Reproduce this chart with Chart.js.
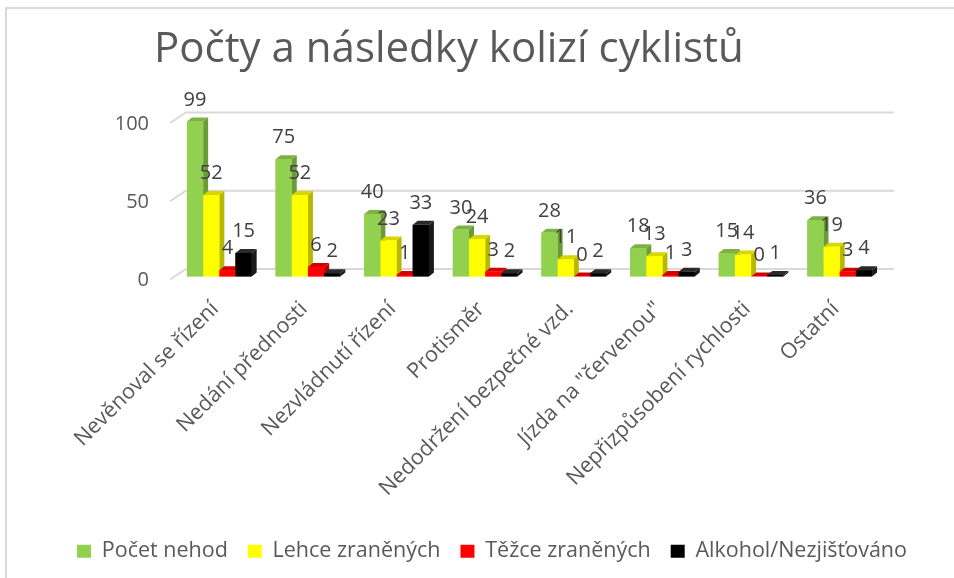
<!DOCTYPE html>
<html>
<head>
<meta charset="utf-8">
<script src="https://cdn.jsdelivr.net/npm/chart.js@4.4.1/dist/chart.umd.min.js"></script>
<style>
  html, body { margin: 0; padding: 0; background: #fff; overflow: hidden; }
  #frame { position: absolute; left: 5px; top: 7px; width: 980px; height: 600px;
           border-top: 2px solid #d9d9d9; border-left: 2px solid #d9d9d9; }
  #myChart { position: absolute; left: 0; top: 0; }
</style>
</head>
<body>
<div id="frame"></div>
<canvas id="myChart" width="954" height="578"></canvas>
<script>
var titleText = 'Počty a následky kolizí cyklistů';
var categories = ['Nevěnoval se řízení', 'Nedání přednosti', 'Nezvládnutí řízení', 'Protisměr',
                  'Nedodržení bezpečné vzd.', 'Jízda na "červenou"', 'Nepřizpůsobení rychlosti', 'Ostatní'];
var pocetNehod = [99, 75, 40, 30, 28, 18, 15, 36];
var lehceZranenych = [52, 52, 23, 24, 11, 13, 14, 19];
var tezceZranenych = [4, 6, 1, 3, 0, 1, 0, 3];
var alkohol = [15, 2, 33, 2, 2, 3, 1, 4];
var yTicks = [0, 50, 100];

// colours: front, side, top
var faces = [
    ['#92d050', '#6b9a39', '#7cb244'],
    ['#ffff00', '#b8b800', '#d6d600'],
    ['#ff0000', '#b80000', '#d40000'],
    ['#000000', '#1a1a1a', '#2a2a2a']
];
var depthX = 5, depthY = 4;

// back grid lines with the little slanted piece at the left
var gridPlugin = {
    id: 'grid3d',
    beforeDatasetsDraw: function(chart) {
        var c = chart.ctx, area = chart.chartArea, y = chart.scales.y;
        c.save();
        c.strokeStyle = '#d9d9d9';
        c.lineWidth = 2;
        yTicks.forEach(function(v) {
            var py = y.getPixelForValue(v);
            c.beginPath();
            c.moveTo(area.left - 5, py + 3);
            c.lineTo(area.left + 11, py - 7.5);
            c.lineTo(area.right + 10, py - 7.5);
            c.stroke();
        });
        c.restore();
    }
};

// side + top faces, then the front again so the next bar covers the side
var barsPlugin = {
    id: 'bars3d',
    afterDatasetsDraw: function(chart) {
        var c = chart.ctx;
        c.save();
        chart.data.datasets.forEach(function(ds, i) {
            var meta = chart.getDatasetMeta(i);
            meta.data.forEach(function(bar) {
                var l = bar.x - bar.width / 2, r = bar.x + bar.width / 2;
                var t = bar.y, b = bar.base;
                c.fillStyle = faces[i][1];
                c.beginPath();
                c.moveTo(r, t); c.lineTo(r + depthX, t - depthY);
                c.lineTo(r + depthX, b - depthY); c.lineTo(r, b);
                c.closePath(); c.fill();
                c.fillStyle = faces[i][2];
                c.beginPath();
                c.moveTo(l, t); c.lineTo(l + depthX, t - depthY);
                c.lineTo(r + depthX, t - depthY); c.lineTo(r, t);
                c.closePath(); c.fill();
                c.fillStyle = faces[i][0];
                c.fillRect(l, t, r - l, b - t);
            });
        });
        // value labels
        c.fillStyle = '#404040';
        c.font = '20px "Open Sans"';
        c.textAlign = 'center';
        c.textBaseline = 'alphabetic';
        chart.data.datasets.forEach(function(ds, i) {
            chart.getDatasetMeta(i).data.forEach(function(bar, j) {
                c.fillText(String(ds.data[j]), bar.x, bar.y - 16);
            });
        });
        c.restore();
    }
};

var titlePlugin = {
    id: 'titleLeft',
    afterDraw: function(chart) {
        var c = chart.ctx;
        c.save();
        c.fillStyle = '#595959';
        c.font = '42px "Open Sans"';
        c.textAlign = 'left';
        c.textBaseline = 'alphabetic';
        c.fillText(titleText, 154, 62);
        c.restore();
    }
};

var ctx = document.getElementById('myChart').getContext('2d');
var chart = new Chart(ctx, {
    type: 'bar',
    data: {
        labels: categories,
        datasets: [
            { label: 'Počet nehod', data: pocetNehod, backgroundColor: faces[0][0] },
            { label: 'Lehce zraněných', data: lehceZranenych, backgroundColor: faces[1][0] },
            { label: 'Těžce zraněných', data: tezceZranenych, backgroundColor: faces[2][0] },
            { label: 'Alkohol/Nezjišťováno', data: alkohol, backgroundColor: faces[3][0] }
        ]
    },
    options: {
        responsive: false,
        animation: false,
        devicePixelRatio: 1,
        datasets: { bar: { categoryPercentage: 0.73, barPercentage: 1 } },
        layout: { autoPadding: false, padding: { left: 30, right: 0, top: 120, bottom: 6 } },
        plugins: {
            legend: {
                position: 'bottom',
                labels: {
                    boxWidth: 14, boxHeight: 13, padding: 20,
                    color: '#595959', font: { family: 'Open Sans', size: 21.5 }
                }
            },
            title: { display: false },
            tooltip: { enabled: false }
        },
        scales: {
            x: {
                grid: { display: false, drawTicks: false },
                border: { display: false },
                ticks: {
                    minRotation: 45, maxRotation: 45, padding: 20, labelOffset: -4,
                    color: '#595959', font: { family: 'Open Sans', size: 21.5 }
                },
                afterFit: function(s) { s.height = 244; }
            },
            y: {
                min: 0, max: 100,
                grid: { display: false, drawTicks: false },
                border: { display: false },
                ticks: {
                    stepSize: 50, padding: 26, labelOffset: 4,
                    color: '#595959', font: { family: 'Open Sans', size: 20 }
                },
                afterFit: function(s) { s.width = 145; }
            },
            // empty right axis, only keeps room on the right of the plot
            yRight: {
                type: 'linear', position: 'right', display: true,
                grid: { display: false, drawTicks: false },
                border: { display: false },
                ticks: { display: false },
                afterFit: function(s) { s.width = 70; }
            }
        }
    },
    plugins: [gridPlugin, barsPlugin, titlePlugin]
});
</script>
</body>
</html>
